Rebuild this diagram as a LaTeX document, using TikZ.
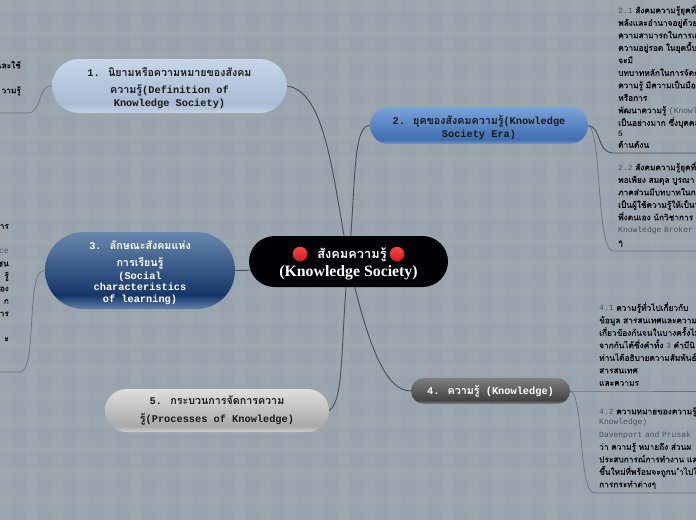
\documentclass[tikz,border=0pt]{standalone}
\usepackage{fontspec}
\setmainfont{Liberation Mono}
\newfontfamily\thaifont[Script=Thai]{Loma}
\newfontfamily\leafthai[Script=Thai,FakeBold=0.12]{Loma}
\newfontfamily\rootfont{Liberation Serif}
\usetikzlibrary{shapes.misc}
\usetikzlibrary{backgrounds}
\definecolor{paper}{HTML}{99A3AD}
\definecolor{linkdark}{HTML}{474E55}
\definecolor{linkpale}{HTML}{6B747C}
\definecolor{latingray}{HTML}{4A4F55}
\pgfdeclareverticalshading{shadeone}{100bp}{rgb(0bp)=(.76,.82,.88); rgb(25bp)=(.76,.82,.88); rgb(34bp)=(.66,.73,.83); rgb(75bp)=(.78,.84,.91); rgb(100bp)=(.78,.84,.91)}
\pgfdeclareverticalshading{shadetwo}{100bp}{rgb(0bp)=(.45,.60,.80); rgb(25bp)=(.45,.60,.80); rgb(31bp)=(.25,.43,.69); rgb(75bp)=(.48,.64,.86); rgb(100bp)=(.48,.64,.86)}
\pgfdeclareverticalshading{shadethree}{100bp}{rgb(0bp)=(.38,.50,.66); rgb(25bp)=(.38,.50,.66); rgb(34bp)=(.08,.21,.41); rgb(75bp)=(.41,.53,.68); rgb(100bp)=(.41,.53,.68)}
\pgfdeclareverticalshading{shadefour}{100bp}{rgb(0bp)=(.55,.55,.55); rgb(25bp)=(.55,.55,.55); rgb(32bp)=(.26,.26,.26); rgb(75bp)=(.50,.50,.50); rgb(100bp)=(.50,.50,.50)}
\pgfdeclareverticalshading{shadefive}{100bp}{rgb(0bp)=(.80,.80,.80); rgb(25bp)=(.80,.80,.80); rgb(32bp)=(.66,.66,.66); rgb(75bp)=(.87,.87,.87); rgb(100bp)=(.87,.87,.87)}
\newcommand{\thtxt}[1]{{\thaifont\fontsize{\thsize}{12}\selectfont #1}}
\newcommand{\latin}[1]{{\color{latingray}#1}}
\newcommand{\thsize}{10.7}
\newcommand{\leaffont}{\fontsize{8}{12.5}\selectfont\lineskiplimit=-20pt\color{black}\let\thaifont\leafthai\renewcommand{\thsize}{8.3}}
\newcommand{\topicfont}{\fontsize{10.3}{13}\selectfont\bfseries\lineskiplimit=-20pt}
\begin{document}
\begin{tikzpicture}[x=1pt,y=-1pt,
  topic node/.style={rounded rectangle,inner sep=0pt,align=center,font=\topicfont,minimum width=#1},
  leaf node/.style={inner xsep=5pt,inner ysep=#1,text width=110pt,align=left,font=\leaffont,anchor=south west},
  left leaf/.style={inner xsep=7pt,inner ysep=#1,text width=40pt,align=right,font=\leaffont,anchor=south east},
  red dot/.style={circle,inner sep=0pt,minimum size=14.5pt,top color=red!70!white!95!black,bottom color=red!80!black!90!white}]
\tikzstyle{link}=[draw=linkdark,line width=.9pt]
\tikzstyle{pale link}=[draw=linkpale,line width=.7pt]
\useasboundingbox (0,0) rectangle (696,520);
\clip (0,0) rectangle (696,520);
\node (root) [topic node=199pt,minimum height=51pt,fill=black!98!blue,text=white,font=\fontsize{15.8}{18}\selectfont\bfseries] at (348.5,261.5)
  {\rule{0pt}{15pt}\hspace*{7pt}{\renewcommand{\thsize}{12.8}\thtxt{สังคมความรู้}}\\\rootfont (Knowledge Society)};
\node (dotleft) [red dot] at (300,254) {};
\node (dotright) [red dot] at (397,254) {};
\node (topic1) [topic node=235pt,minimum height=54pt,shading=shadeone,text=black!90] at (169.5,86)
  {\rule{0pt}{14pt}1. \thtxt{นิยามหรือความหมายของสังคม}\\[4pt]\thtxt{ความรู้}(Definition of\\Knowledge Society)};
\node (topic2) [topic node=218pt,minimum height=37pt,shading=shadetwo,text=black!90] at (479,125.5)
  {\rule{0pt}{14pt}2. \thtxt{ยุคของสังคมความรู้}(Knowledge\\Society Era)};
\node (topic3) [topic node=190pt,minimum height=77pt,shading=shadethree,text=white] at (140,270.5)
  {\rule{0pt}{14pt}3. \thtxt{ลักษณะสังคมแห่ง}\\[3.5pt]\thtxt{การเรียนรู้}\\(Social\\[-1.5pt]characteristics\\[-1pt]of learning)};
\node (topic4) [topic node=159pt,minimum height=26pt,shading=shadefour,text=white] at (490.5,391)
  {4. \thtxt{ความรู้} (Knowledge)};
\node (topic5) [topic node=224pt,minimum height=43pt,shading=shadefive,text=black!90] at (217,410.5)
  {5. \thtxt{กระบวนการจัดการความ}\\[5pt]\thtxt{รู้}(Processes of Knowledge)};
\node (leaf11) [left leaf=7pt] at (28,113)
  {\thtxt{และใช้}\\\mbox{}\\\thtxt{วามรู้}\\\mbox{}};
\node (leaf31) [left leaf=5.5pt,inner xsep=11pt] at (20,372)
  {\thtxt{าร}\hspace*{3pt}\\\mbox{}\\\latin{ce}\hspace*{2pt}\\\thtxt{ชน}\\\thtxt{รู้}\\\thtxt{อง}\\\thtxt{ก}\hspace*{6pt}\\\thtxt{าร}\hspace*{2pt}\\\mbox{}\\\thtxt{ะ}\hspace*{8pt}\\\mbox{}\\\mbox{}};
\node (leaf21) [leaf node=5pt] at (613,153)
  {\latin{2.1} \thtxt{สังคมความรู้ยุคที่}\\\thtxt{พลังและอำนาจอยู่ด้วย}\\\thtxt{ความสามารถในการแ}\\\thtxt{ความอยู่รอด ในยุคนี้บ}\\\thtxt{จะมี}\\\thtxt{บทบาทหลักในการจัดก}\\\thtxt{ความรู้ มีความเป็นมือ}\\\thtxt{หรือการ}\\\thtxt{พัฒนาความรู้} \latin{(Knowl}\\\thtxt{เป็นอย่างมาก ซึ่งบุคคล}\\[-1.5pt]5\\[-1.5pt]\thtxt{ด้านดังน}};
\node (leaf22) [leaf node=4pt] at (613,251)
  {\latin{2.2} \thtxt{สังคมความรู้ยุคที่}\\\thtxt{พอเพียง สมดุล บูรณา}\\\thtxt{ภาคส่วนมีบทบาทในก}\\\thtxt{เป็นผู้ใช้ความรู้ให้เป็นฯ}\\\thtxt{พึ่งตนเอง นักวิชาการ}\\\latin{Knowledge Broker}\\\thtxt{ๆ}};
\node (leaf41) [leaf node=5pt] at (594,391)
  {\latin{4.1} \thtxt{ความรู้ทั่วไปเกี่ยวกับ}\\\thtxt{ข้อมูล สารสนเทศและความ}\\\thtxt{เกี่ยวข้องกันจนในบางครั้งไม}\\\thtxt{จากกันได้ซึ่งคำทั้ง} \latin{3} \thtxt{คำมีนิ}\\\thtxt{ท่านได้อธิบายความสัมพันธ์ร}\\\thtxt{สารสนเทศ}\\\thtxt{และความร}};
\node (leaf42) [leaf node=4pt] at (594,493)
  {\latin{4.2} \thtxt{ความหมายของความรู้}\\[-2pt]\latin{Knowledge)}\\\latin{Davenport and Prusak}\\\thtxt{ว่า ความรู้ หมายถึง ส่วนผ}\\\thtxt{ประสบการณ์การทำงาน แล}\\\thtxt{ขึ้นใหม่ที่พร้อมจะถูกน ำไปใ}\\\thtxt{การกระทำต่างๆ}};
\begin{pgfonlayer}{background}
\fill[paper] (0,0) rectangle (696,520);
\foreach \stripe in {0,26,...,702} \fill[white,opacity=.022] (\stripe,0) rectangle ++(11,520);
\foreach \stripe in {0,26,...,520} \fill[white,opacity=.022] (0,\stripe) rectangle ++(696,11);
% main branches
\draw[link] (topic1.east) .. controls (325,92) and (332,170) .. (root.center);
\draw[link] (topic2.west) .. controls (352,125) and (356,190) .. (root.center);
\draw[link] (topic3.east) .. controls (262,270) and (300,270) .. (root.center);
\draw[link] (topic4.west) .. controls (385,391) and (368,345) .. (root.center);
\draw[link] (topic5.east) .. controls (345,400) and (340,340) .. (root.center);
% leaves
\draw[pale link] (topic1.west) .. controls (38,84) and (42,113) .. (leaf11.south east) -- (leaf11.south west);
\draw[pale link] (topic3.west) .. controls (25,268) and (38,372) .. (leaf31.south east) -- (leaf31.south west);
\draw[link] (topic2.east) .. controls (602,127) and (596,152) .. (leaf21.south west) -- (leaf21.south east);
\draw[pale link] (topic2.east) .. controls (602,130) and (596,250) .. (leaf22.south west) -- (leaf22.south east);
\draw[pale link] (topic4.east) -- (leaf41.south west) -- (leaf41.south east);
\draw[pale link] (topic4.east) .. controls (584,395) and (578,490) .. (leaf42.south west) -- (leaf42.south east);
\end{pgfonlayer}
\end{tikzpicture}
\end{document}
